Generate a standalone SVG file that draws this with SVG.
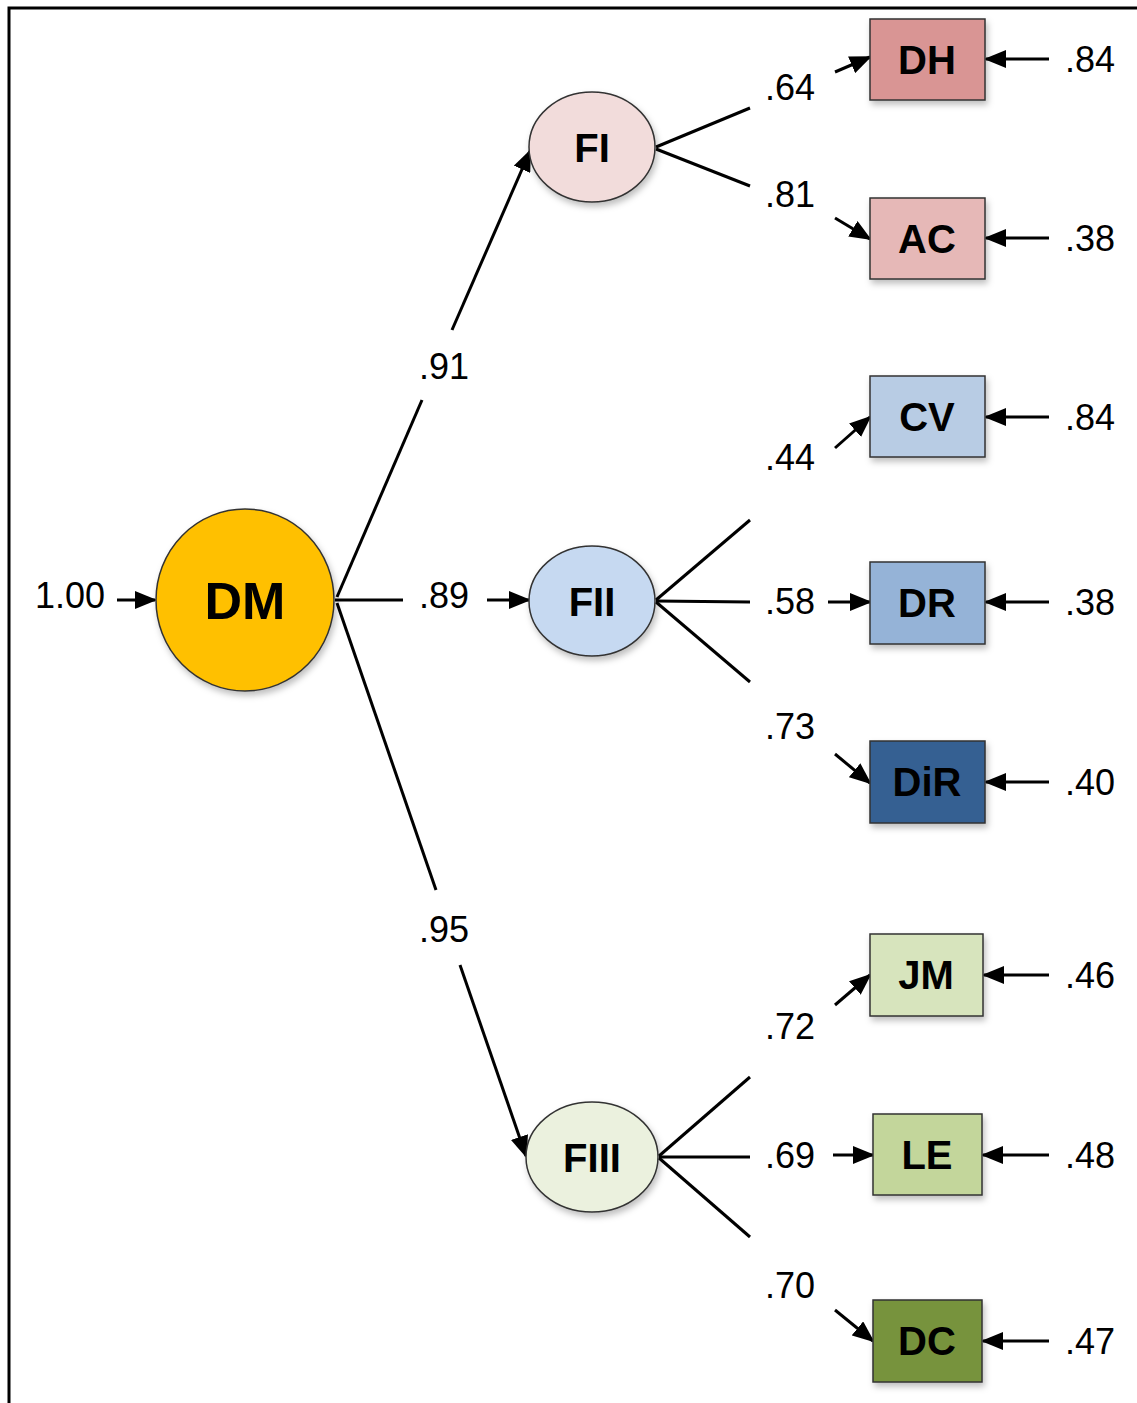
<svg xmlns="http://www.w3.org/2000/svg" width="1137" height="1403" viewBox="0 0 1137 1403">
<defs>
<marker id="ah" markerWidth="22" markerHeight="18" refX="20" refY="9" orient="auto" markerUnits="userSpaceOnUse">
<path d="M0,0 L22,9 L0,18 z" fill="#000"/>
</marker>
<filter id="sh" x="-20%" y="-20%" width="150%" height="150%">
<feDropShadow dx="2" dy="4" stdDeviation="3" flood-color="#000" flood-opacity="0.25"/>
</filter>
</defs>
<style>
.lbl{font-family:"Liberation Sans",Arial,sans-serif;font-weight:bold;fill:#000;text-anchor:middle}
.num{font-family:"Liberation Sans",Arial,sans-serif;font-size:36px;fill:#000;text-anchor:middle}
.ln{stroke:#000;stroke-width:3;fill:none}
.ar{stroke:#000;stroke-width:3;fill:none;marker-end:url(#ah)}
.nd{stroke:#333;stroke-width:1.5;filter:url(#sh)}
</style>
<rect width="1137" height="1403" fill="#fff"/>
<path d="M9,1403 V8 H1137" fill="none" stroke="#000" stroke-width="3"/>

<g id="connectors">
<line class="ar" x1="117" y1="600" x2="155" y2="600"/>
<line class="ln" x1="337" y1="597" x2="422" y2="400"/>
<line class="ar" x1="452" y1="330" x2="530" y2="151"/>
<line class="ln" x1="335" y1="600" x2="403" y2="600"/>
<line class="ar" x1="487" y1="600" x2="529" y2="600"/>
<line class="ln" x1="337" y1="603" x2="436" y2="890"/>
<line class="ar" x1="460" y1="965" x2="526" y2="1156"/>

<line class="ln" x1="656" y1="147" x2="750" y2="108"/>
<line class="ln" x1="656" y1="149" x2="750" y2="186"/>
<line class="ar" x1="835" y1="72" x2="870" y2="57"/>
<line class="ar" x1="835" y1="218" x2="870" y2="239"/>

<line class="ln" x1="656" y1="600" x2="750" y2="520"/>
<line class="ln" x1="656" y1="601" x2="750" y2="602"/>
<line class="ln" x1="656" y1="602" x2="750" y2="682"/>
<line class="ar" x1="835" y1="448" x2="870" y2="417"/>
<line class="ar" x1="828" y1="602" x2="870" y2="602"/>
<line class="ar" x1="835" y1="754" x2="870" y2="783"/>

<line class="ln" x1="659" y1="1156" x2="750" y2="1077"/>
<line class="ln" x1="659" y1="1157" x2="750" y2="1157"/>
<line class="ln" x1="659" y1="1158" x2="750" y2="1237"/>
<line class="ar" x1="835" y1="1005" x2="870" y2="975"/>
<line class="ar" x1="833" y1="1155" x2="873" y2="1155"/>
<line class="ar" x1="835" y1="1310" x2="873" y2="1341"/>

<line class="ar" x1="1049" y1="59" x2="986" y2="59"/>
<line class="ar" x1="1049" y1="238" x2="986" y2="238"/>
<line class="ar" x1="1049" y1="417" x2="986" y2="417"/>
<line class="ar" x1="1049" y1="602" x2="986" y2="602"/>
<line class="ar" x1="1049" y1="782" x2="986" y2="782"/>
<line class="ar" x1="1049" y1="975" x2="984" y2="975"/>
<line class="ar" x1="1049" y1="1155" x2="983" y2="1155"/>
<line class="ar" x1="1049" y1="1341" x2="983" y2="1341"/>

<text class="num" x="70" y="608">1.00</text>
<text class="num" x="444" y="379">.91</text>
<text class="num" x="444" y="608">.89</text>
<text class="num" x="444" y="942">.95</text>
<text class="num" x="790" y="100">.64</text>
<text class="num" x="790" y="207">.81</text>
<text class="num" x="790" y="470">.44</text>
<text class="num" x="790" y="614">.58</text>
<text class="num" x="790" y="739">.73</text>
<text class="num" x="790" y="1039">.72</text>
<text class="num" x="790" y="1168">.69</text>
<text class="num" x="790" y="1298">.70</text>
<text class="num" x="1090" y="72">.84</text>
<text class="num" x="1090" y="251">.38</text>
<text class="num" x="1090" y="430">.84</text>
<text class="num" x="1090" y="615">.38</text>
<text class="num" x="1090" y="795">.40</text>
<text class="num" x="1090" y="988">.46</text>
<text class="num" x="1090" y="1168">.48</text>
<text class="num" x="1090" y="1354">.47</text>
</g>

<g id="DM"><ellipse class="nd" cx="245" cy="600" rx="89" ry="91" fill="#FFC000"/><text class="lbl" x="245" y="619" font-size="52">DM</text></g>
<g id="FI"><ellipse class="nd" cx="592" cy="147" rx="63" ry="55" fill="#F2DCDB"/><text class="lbl" x="592" y="162" font-size="40">FI</text></g>
<g id="FII"><ellipse class="nd" cx="592" cy="601" rx="63" ry="55" fill="#C6D9F1"/><text class="lbl" x="592" y="616" font-size="40">FII</text></g>
<g id="FIII"><ellipse class="nd" cx="592" cy="1157" rx="66" ry="55" fill="#EBF1DE"/><text class="lbl" x="592" y="1172" font-size="40">FIII</text></g>

<g id="DH"><rect class="nd" x="870" y="19" width="115" height="81" fill="#D99594"/><text class="lbl" x="927" y="74" font-size="40">DH</text></g>
<g id="AC"><rect class="nd" x="870" y="198" width="115" height="81" fill="#E6B8B7"/><text class="lbl" x="927" y="253" font-size="40">AC</text></g>
<g id="CV"><rect class="nd" x="870" y="376" width="115" height="81" fill="#B8CCE4"/><text class="lbl" x="927" y="431" font-size="40">CV</text></g>
<g id="DR"><rect class="nd" x="870" y="562" width="115" height="82" fill="#95B3D7"/><text class="lbl" x="927" y="617" font-size="40">DR</text></g>
<g id="DiR"><rect class="nd" x="870" y="741" width="115" height="82" fill="#366092"/><text class="lbl" x="927" y="796" font-size="40">DiR</text></g>
<g id="JM"><rect class="nd" x="870" y="934" width="113" height="82" fill="#D7E4BD"/><text class="lbl" x="926" y="989" font-size="40">JM</text></g>
<g id="LE"><rect class="nd" x="873" y="1114" width="109" height="81" fill="#C3D69B"/><text class="lbl" x="927" y="1169" font-size="40">LE</text></g>
<g id="DC"><rect class="nd" x="873" y="1300" width="109" height="82" fill="#77933C"/><text class="lbl" x="927" y="1355" font-size="40">DC</text></g>
</svg>
